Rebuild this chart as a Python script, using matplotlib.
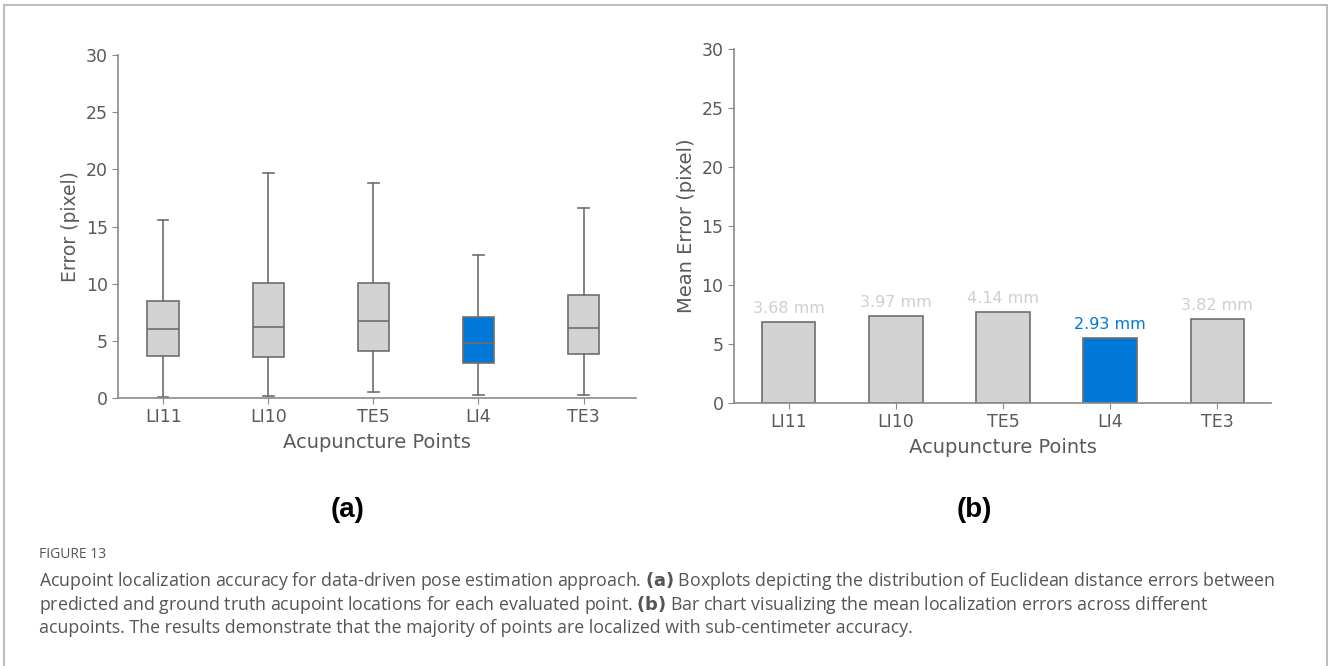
import numpy as np
import matplotlib
matplotlib.use("Agg")
import matplotlib.pyplot as plt
from matplotlib.patches import Rectangle

# acupoints on the x axis
points = ["LI11", "LI10", "TE5", "LI4", "TE3"]

# boxplot stats, in pixels
whis_lo = [0.1, 0.2, 0.55, 0.3, 0.3]
q1 = [3.7, 3.6, 4.1, 3.05, 3.85]
med = [6.0, 6.2, 6.7, 4.8, 6.1]
q3 = [8.5, 10.1, 10.1, 7.05, 9.0]
whis_hi = [15.6, 19.7, 18.8, 12.5, 16.6]

# mean errors for panel (b)
mean_px = [6.85, 7.4, 7.7, 5.5, 7.1]
mean_mm = ["3.68 mm", "3.97 mm", "4.14 mm", "2.93 mm", "3.82 mm"]

highlight = "LI4"
GRAY = "#d3d3d3"
BLUE = "#0078d7"
EDGE = "#6e6e6e"
TXT = "#5a5a5a"


def style_axes(ax):
    for s in ["top", "right"]:
        ax.spines[s].set_visible(False)
    for s in ["left", "bottom"]:
        ax.spines[s].set_color("#8a8a8a")
        ax.spines[s].set_linewidth(1.2)
    ax.tick_params(colors="#8a8a8a", labelcolor=TXT, labelsize=12.5, length=4)
    ax.set_ylim(0, 30)
    ax.set_yticks(np.arange(0, 31, 5))
    ax.set_xticks(range(len(points)))
    ax.set_xticklabels(points)
    ax.set_xlim(-0.43, 4.5)


fig = plt.figure(figsize=(13.28, 6.66), dpi=100)

# panel (a): boxplots
ax1 = fig.add_axes([0.0889, 0.4024, 0.3901, 0.515])
stats = []
for i, p in enumerate(points):
    stats.append(dict(label=p, whislo=whis_lo[i], q1=q1[i], med=med[i],
                      q3=q3[i], whishi=whis_hi[i], fliers=[]))
bp = ax1.bxp(stats, positions=range(len(points)), widths=0.3, patch_artist=True,
             showfliers=False,
             boxprops=dict(edgecolor=EDGE, linewidth=1.2),
             medianprops=dict(color=EDGE, linewidth=1.2),
             whiskerprops=dict(color=EDGE, linewidth=1.2),
             capprops=dict(color=EDGE, linewidth=1.2),
             capwidths=0.1)
for p, box in zip(points, bp["boxes"]):
    box.set_facecolor(BLUE if p == highlight else GRAY)
style_axes(ax1)
ax1.set_ylabel("Error (pixel)", fontsize=13.5, color=TXT)
ax1.set_xlabel("Acupuncture Points", fontsize=14, color=TXT, labelpad=5)

# panel (b): mean error bars
ax2 = fig.add_axes([0.5527, 0.3949, 0.4043, 0.5315])
colors = [BLUE if p == highlight else GRAY for p in points]
bars = ax2.bar(range(len(points)), mean_px, width=0.5, color=colors,
               edgecolor=EDGE, linewidth=1.2)
for p, b, lab in zip(points, bars, mean_mm):
    ax2.text(b.get_x() + b.get_width() / 2, b.get_height() + 0.5, lab,
             ha="center", va="bottom", fontsize=11.5,
             color=BLUE if p == highlight else "#cfcfcf")
style_axes(ax2)
ax2.set_xlim(-0.51, 4.5)
ax2.set_ylabel("Mean Error (pixel)", fontsize=14, color=TXT)
ax2.set_xlabel("Acupuncture Points", fontsize=14, color=TXT, labelpad=5)

fig.text(348 / 1328, 1 - 510 / 666, "(a)", fontsize=20, fontweight="bold",
         family="Liberation Sans", ha="center", va="center")
fig.text(974 / 1328, 1 - 510 / 666, "(b)", fontsize=20, fontweight="bold",
         family="Liberation Sans", ha="center", va="center")

# caption
fig.text(39 / 1328, 1 - 554 / 666, "FIGURE 13", fontsize=10, color="#555555",
         family="Open Sans", ha="left", va="center")
cap = [
    r"Acupoint localization accuracy for data-driven pose estimation approach. $\bf{(a)}$ Boxplots depicting the distribution of Euclidean distance errors between",
    r"predicted and ground truth acupoint locations for each evaluated point. $\bf{(b)}$ Bar chart visualizing the mean localization errors across different",
    "acupoints. The results demonstrate that the majority of points are localized with sub-centimeter accuracy.",
]
for k, line in enumerate(cap):
    fig.text(39 / 1328, 1 - (586 + 23.5 * k) / 666, line, fontsize=12.8,
             color="#555555", family="Open Sans", ha="left", va="baseline")

# frame around the figure
fig.add_artist(Rectangle((4 / 1328, -0.01), 1322.5 / 1328, 1 - 5 / 666 + 0.01,
                         transform=fig.transFigure, fill=False,
                         edgecolor="#bdbdbd", linewidth=1.5))

fig.savefig("out.png", dpi=100)
